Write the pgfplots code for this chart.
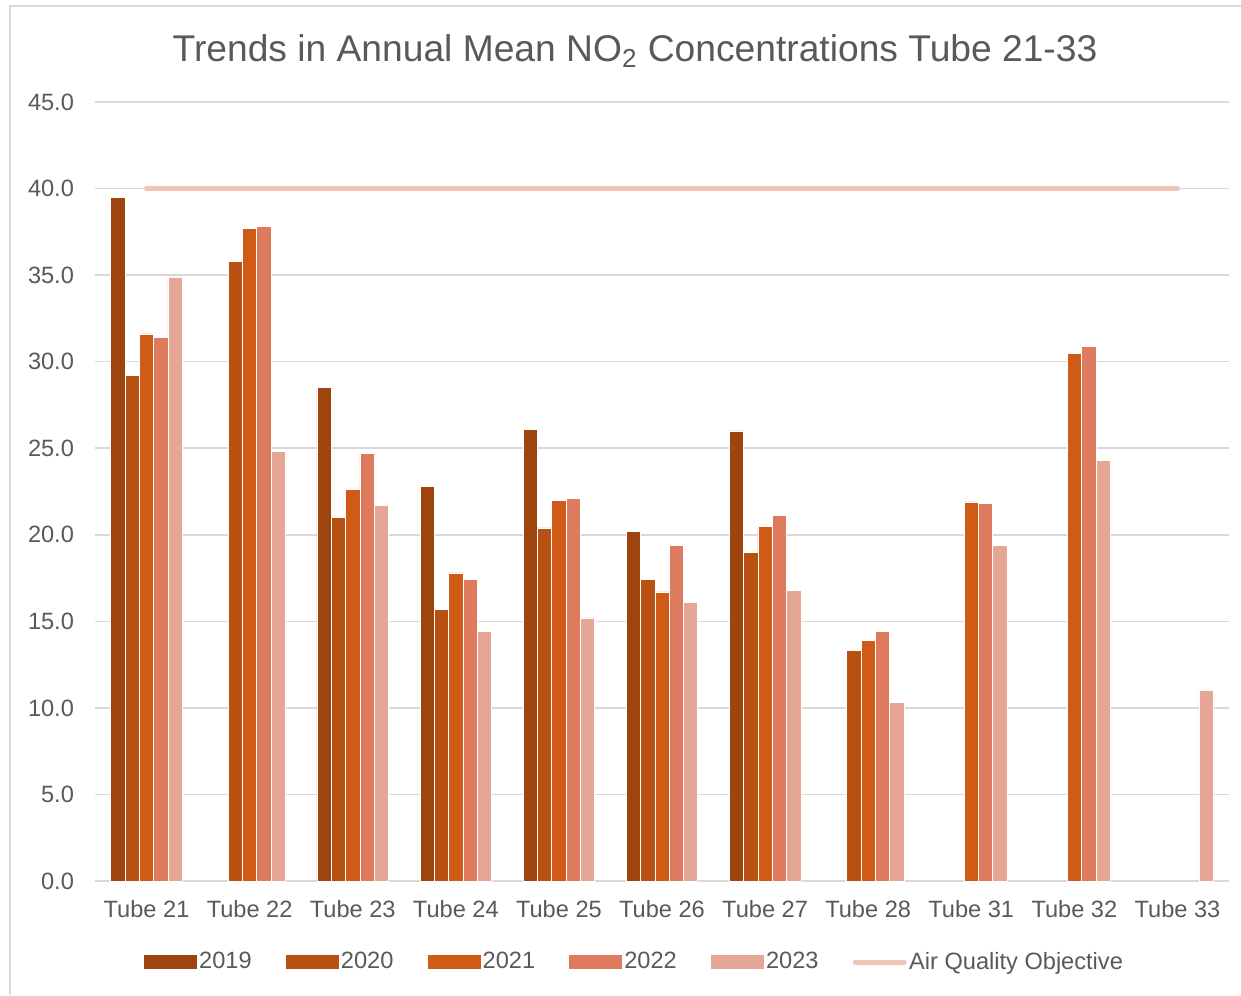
\documentclass[border=0pt]{standalone}
\usepackage{fontspec}
\setmainfont{Liberation Sans}
\usepackage{pgfplots}
\usepackage{pgfplotstable}
\pgfplotsset{compat=1.18}
\definecolor{c19}{HTML}{9E440F}
\definecolor{c20}{HTML}{B85011}
\definecolor{c21}{HTML}{CF5B16}
\definecolor{c22}{HTML}{DE7B5E}
\definecolor{c23}{HTML}{E6A695}
\definecolor{aqo}{HTML}{F1C4B8}
\definecolor{gridc}{HTML}{D9D9D9}
\definecolor{txt}{HTML}{595959}
\pgfplotstableread{
x y2019 y2020 y2021 y2022 y2023
0 39.5 29.2 31.6 31.4 34.9
1 nan 35.8 37.7 37.8 24.8
2 28.5 21.0 22.6 24.7 21.7
3 22.8 15.7 17.8 17.4 14.4
4 26.1 20.4 22.0 22.1 15.2
5 20.2 17.4 16.7 19.4 16.1
6 26.0 19.0 20.5 21.1 16.8
7 nan 13.3 13.9 14.4 10.3
8 nan nan 21.9 21.8 19.4
9 nan nan 30.5 30.9 24.3
10 nan nan nan nan 11.0
}\datatable
\begin{document}
\begin{tikzpicture}[x=1pt,y=1pt]
\path[use as bounding box] (0,0) rectangle (620.5,-497.5);
\draw[color=gridc, line width=0.75pt] (5,-497.5) -- (5,-3) -- (620.5,-3);
\node[font=\fontsize{18.6}{22}\selectfont, text=txt] at (317.5,-25.5) {Trends in Annual Mean NO\textsubscript{2} Concentrations Tube 21-33};
\begin{axis}[
  at={(47.5pt,-440.5pt)}, anchor=south west,
  scale only axis, width=567pt, height=389.5pt,
  xmin=-0.5, xmax=10.5, ymin=0, ymax=45,
  ybar=0pt, bar width=7.15pt,
  xtick={0,...,10},
  xticklabels={Tube 21,Tube 22,Tube 23,Tube 24,Tube 25,Tube 26,Tube 27,Tube 28,Tube 31,Tube 32,Tube 33},
  ytick={0,5,...,45},
  ymajorgrids, grid style={gridc, line width=0.75pt},
  major tick length=0pt,
  axis x line*=bottom, axis y line*=left,
  y axis line style={draw=none},
  x axis line style={gridc, line width=0.75pt, -},
  ticklabel style={font=\fontsize{11.8}{14}\selectfont, text=txt},
  yticklabel style={xshift=-7pt},
  xticklabel style={yshift=-6pt},
  /pgf/number format/assume math mode=true,
  yticklabel={\pgfmathprintnumber[fixed,fixed zerofill,precision=1]{\tick}},
  legend columns=6,
  legend style={at={(0.476,-0.1040)}, anchor=center, draw=none, fill=none,
    font=\fontsize{11.8}{14}\selectfont, text=txt,
    nodes={inner xsep=1.2pt},
    /tikz/every even column/.append style={column sep=15.9pt}},
  every axis plot/.append style={draw=white, line width=0.3pt},
]
\addplot[fill=c19, legend image code/.code={\fill[c19] (0pt,-3.25pt) rectangle (26pt,3.25pt);}] table[x=x,y=y2019]{\datatable};
\addplot[fill=c20, legend image code/.code={\fill[c20] (0pt,-3.25pt) rectangle (26pt,3.25pt);}] table[x=x,y=y2020]{\datatable};
\addplot[fill=c21, legend image code/.code={\fill[c21] (0pt,-3.25pt) rectangle (26pt,3.25pt);}] table[x=x,y=y2021]{\datatable};
\addplot[fill=c22, legend image code/.code={\fill[c22] (0pt,-3.25pt) rectangle (26pt,3.25pt);}] table[x=x,y=y2022]{\datatable};
\addplot[fill=c23, legend image code/.code={\fill[c23] (0pt,-3.25pt) rectangle (26pt,3.25pt);}] table[x=x,y=y2023]{\datatable};
\addplot[sharp plot, draw=aqo, line width=2.5pt, line cap=round,
  legend image code/.code={\draw[aqo, line width=2.5pt, line cap=round] (1.5pt,0pt) -- (26pt,0pt);}]
  coordinates {(0,40) (10,40)};
\legend{2019,2020,2021,2022,2023,Air Quality Objective}
\end{axis}
\end{tikzpicture}
\end{document}
